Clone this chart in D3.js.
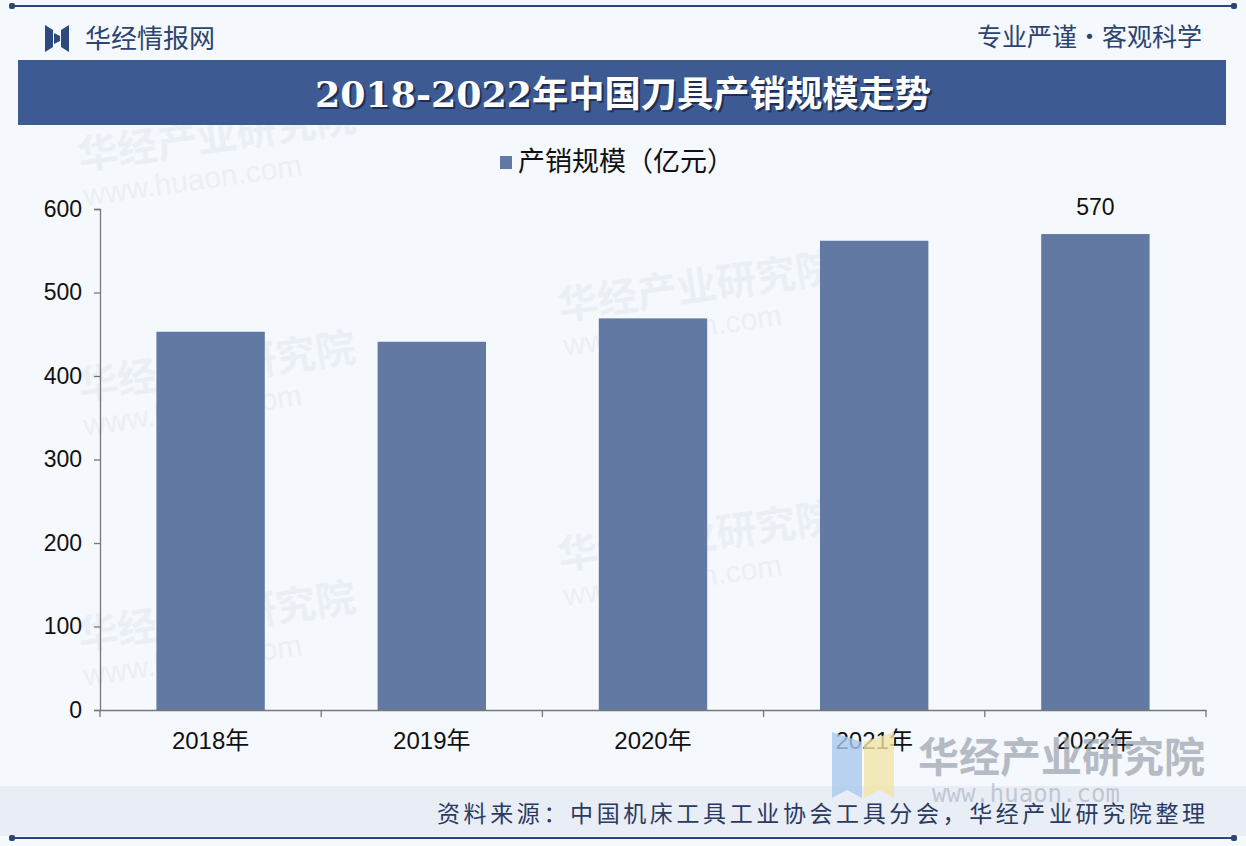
<!DOCTYPE html>
<html>
<head>
<meta charset="utf-8">
<script src="https://cdn.jsdelivr.net/npm/d3@7"></script>
<style>
  html, body { margin: 0; padding: 0; background: #f4f7fb; }
  svg { display: block; }
</style>
</head>
<body>
<div id="chart"></div>
<script>
// data
const years = ['2018年', '2019年', '2020年', '2021年', '2022年'];
const salesValues = [453, 441, 469, 562, 570];
const yTicks = [0, 100, 200, 300, 400, 500, 600];
const labelledYears = ['2022年'];

const W = 1246, H = 846;
const cjk = '"Noto Sans CJK SC", "Noto Sans", sans-serif';
const latin = '"Liberation Sans", Arial, "Noto Sans CJK SC", sans-serif';

const svg = d3.select('#chart').append('svg')
	.attr('width', W)
	.attr('height', H);

// page background
svg.append('rect').attr('width', W).attr('height', H).attr('fill', '#f5f8fc');
svg.append('rect').attr('x', 0).attr('y', 786).attr('width', W).attr('height', 50).attr('fill', '#e9eef6');

// top and bottom rules
[6, 838].forEach(function (y) {
	svg.append('line')
		.attr('x1', 14).attr('x2', 1232).attr('y1', y).attr('y2', y)
		.attr('stroke', '#2b4674').attr('stroke-width', 2);
	[12, 1234].forEach(function (x) {
		svg.append('rect').attr('x', x - 3).attr('y', y - 3).attr('width', 6).attr('height', 6)
			.attr('rx', 2).attr('fill', '#2b4674');
	});
});

// header logo + texts
const logo = svg.append('g').attr('transform', 'translate(45,25)');
logo.append('path').attr('d', 'M0,0 L8,5 L8,22 L0,27 Z').attr('fill', '#2c4a7c');
logo.append('path').attr('d', 'M24,0 L16,5 L16,22 L24,27 Z').attr('fill', '#2c4a7c');
logo.append('path').attr('d', 'M9,8 L15,11 L15,16 L9,19 Z').attr('fill', '#2c4a7c');

svg.append('text')
	.attr('x', 85).attr('y', 48)
	.attr('font-family', cjk).attr('font-size', 26)
	.attr('fill', '#2c4470')
	.text('华经情报网');

svg.append('text')
	.attr('x', 1202).attr('y', 46)
	.attr('text-anchor', 'end')
	.attr('font-family', cjk).attr('font-size', 25)
	.attr('fill', '#2c4470')
	.text('专业严谨•客观科学');

// title banner
svg.append('rect')
	.attr('x', 18).attr('y', 60).attr('width', 1208).attr('height', 65)
	.attr('fill', '#3d5a93');
const titleText = '2018-2022年中国刀具产销规模走势';
[['#1d2f55', 2], ['#ffffff', 0]].forEach(function (t) {
	svg.append('text')
		.attr('x', 623 + t[1]).attr('y', 107 + t[1])
		.attr('text-anchor', 'middle')
		.attr('font-family', '"DejaVu Serif", "Noto Sans CJK SC", serif')
		.attr('font-weight', 'bold').attr('font-size', 36)
		.attr('textLength', 616).attr('lengthAdjust', 'spacingAndGlyphs')
		.attr('fill', t[0])
		.text(titleText);
});

// faint watermarks in the plot background
const marks = [[80, 170], [560, 320], [80, 400], [560, 570], [80, 650]];
marks.forEach(function (m) {
	const g = svg.append('g').attr('transform', 'translate(' + m[0] + ',' + m[1] + ') rotate(-8)')
		.attr('opacity', 0.05);
	g.append('text').attr('font-family', cjk).attr('font-size', 40).attr('font-weight', 'bold')
		.attr('fill', '#3d5a93').text('华经产业研究院');
	g.append('text').attr('y', 36).attr('font-family', latin).attr('font-size', 30)
		.attr('fill', '#3d5a93').text('www.huaon.com');
});

// chart area
const margin = { left: 100, right: 40, top: 209, bottom: 136 };
const innerW = W - margin.left - margin.right;
const innerH = H - margin.top - margin.bottom;

const plot = svg.append('g')
	.attr('transform', 'translate(' + margin.left + ',' + margin.top + ')');

const x = d3.scaleBand()
	.domain(years)
	.range([0, innerW])
	.paddingInner(0.51)
	.paddingOuter(0.255);

const y = d3.scaleLinear()
	.domain([0, 600])
	.range([innerH, 0]);

// bottom-right brand watermark (drawn under the axis labels, as in the reference)
const brand = svg.append('g').attr('transform', 'translate(832,732)');
brand.append('path').attr('d', 'M0,0 L30,10 L30,66 L15,58 L0,66 Z').attr('fill', '#a9c9ef').attr('opacity', 0.8);
brand.append('path').attr('d', 'M32,10 L62,0 L62,66 L47,58 L32,66 Z').attr('fill', '#f3e3a6').attr('opacity', 0.8);
brand.append('text')
	.attr('x', 86).attr('y', 40)
	.attr('font-family', cjk).attr('font-size', 41).attr('font-weight', 'bold')
	.attr('fill', '#9aa2ad').attr('opacity', 0.7)
	.text('华经产业研究院');
brand.append('text')
	.attr('x', 100).attr('y', 70)
	.attr('font-family', '"DejaVu Sans Mono", monospace').attr('font-size', 24)
	.attr('fill', '#9aa2ad').attr('opacity', 0.5)
	.text('www.huaon.com');

// bars
plot.selectAll('.bar').data(salesValues)
	.enter().append('rect')
	.attr('class', 'bar')
	.attr('x', function (d, i) { return x(years[i]); })
	.attr('y', function (d) { return y(d); })
	.attr('width', x.bandwidth())
	.attr('height', function (d) { return innerH - y(d); })
	.attr('fill', '#6279a3');

// y axis
const yAxis = plot.append('g')
	.call(d3.axisLeft(y).tickValues(yTicks).tickSize(6).tickPadding(12).tickFormat(d3.format('d')));
yAxis.select('.domain').attr('stroke', '#777777').attr('stroke-width', 1.3);
yAxis.selectAll('.tick line').attr('stroke', '#777777').attr('stroke-width', 1.3);
yAxis.selectAll('.tick text')
	.attr('font-family', latin).attr('font-size', 23).attr('fill', '#111111');

// x axis: ticks on category boundaries
const xAxis = plot.append('g')
	.attr('transform', 'translate(0,' + innerH + ')')
	.call(d3.axisBottom(x).tickSize(0).tickPadding(22));
xAxis.select('.domain').attr('stroke', '#777777').attr('stroke-width', 1.3);
xAxis.selectAll('.tick text')
	.attr('font-family', latin).attr('font-size', 24).attr('fill', '#111111');

const bounds = d3.range(years.length + 1).map(function (i) { return i * innerW / years.length; });
xAxis.selectAll('.bound').data(bounds)
	.enter().append('line')
	.attr('class', 'bound')
	.attr('x1', function (d) { return d; }).attr('x2', function (d) { return d; })
	.attr('y1', 0).attr('y2', 7)
	.attr('stroke', '#777777').attr('stroke-width', 1.3);

// data label
plot.selectAll('.val').data(salesValues.filter(function (d, i) { return labelledYears.indexOf(years[i]) >= 0; }))
	.enter().append('text')
	.attr('class', 'val')
	.attr('x', x('2022年') + x.bandwidth() / 2)
	.attr('y', function (d) { return y(d) - 19; })
	.attr('text-anchor', 'middle')
	.attr('font-family', latin).attr('font-size', 23).attr('fill', '#111111')
	.text(function (d) { return d; });

// legend
const legend = svg.append('g').attr('transform', 'translate(500,156)');
legend.append('rect').attr('width', 12).attr('height', 13).attr('fill', '#6279a3');
legend.append('text')
	.attr('x', 18).attr('y', 15)
	.attr('font-family', cjk).attr('font-size', 27).attr('fill', '#111111')
	.text('产销规模（亿元）');

// source note
svg.append('text')
	.attr('x', 1205).attr('y', 822)
	.attr('text-anchor', 'end')
	.attr('font-family', cjk).attr('font-size', 23).attr('fill', '#2a3a62')
	.attr('textLength', 768).attr('lengthAdjust', 'spacing')
	.text('资料来源：中国机床工具工业协会工具分会，华经产业研究院整理');
</script>
</body>
</html>
